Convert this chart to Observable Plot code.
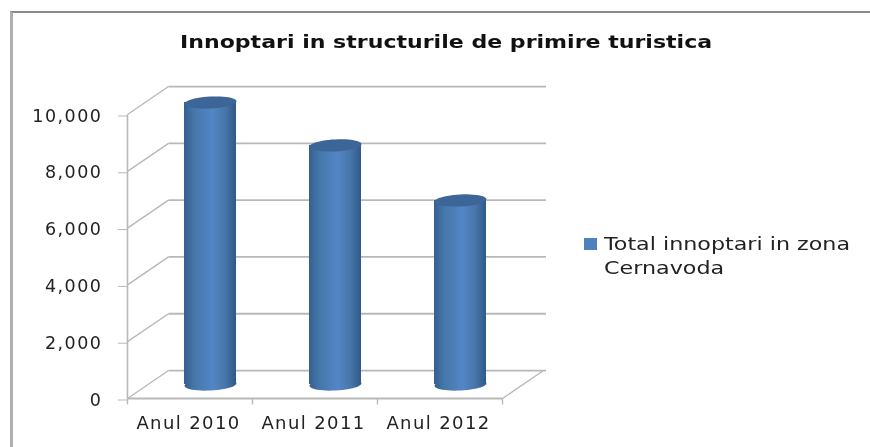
<!DOCTYPE html>
<html>
<head>
<meta charset="utf-8">
<script src="https://cdn.jsdelivr.net/npm/d3@7"></script>
<script src="https://cdn.jsdelivr.net/npm/@observablehq/plot@0.6"></script>
<style>
html, body { margin: 0; padding: 0; background: #fff; overflow: hidden; }
#wrap { position: relative; width: 870px; height: 447px; font-family: "DejaVu Sans", sans-serif; color: #222; filter: blur(0.45px); }
#frame { position: absolute; left: 10px; top: 11px; width: 860px; height: 436px; box-sizing: border-box;
  border-left: 3px solid #b0b0b0; border-top: 2px solid #8a8a8a; }
#title { position: absolute; left: 180px; top: 31px; font-size: 18px; font-weight: bold; white-space: nowrap; color: #111; transform: scaleX(1.226); transform-origin: left top; }
#legend { position: absolute; left: 584px; top: 232px; font-size: 17.5px; line-height: 24px; }
#legend i { position: absolute; left: 0; top: 6px; width: 13px; height: 12px; background: #4f81bd; }
#legend span { display: block; margin-left: 20px; white-space: nowrap; transform: scaleX(1.27); transform-origin: left top; }
svg { position: absolute; left: 0; top: 0; }
g[aria-label="y-axis tick label"] { letter-spacing: 1.5px; }
g[aria-label="text"] { letter-spacing: 1.4px; }
</style>
</head>
<body>
<div id="wrap">
  <div id="frame"></div>
  <div id="chart"></div>
  <div id="title"></div>
  <div id="legend"><i></i><span id="l1"></span><span id="l2"></span></div>
</div>
<script>
const titleText = "Innoptari in structurile de primire turistica";
const legendLines = ["Total innoptari in zona", "Cernavoda"];
const categories = ["Anul 2010", "Anul 2011", "Anul 2012"];
const values = [9930, 8420, 6480];
const yTicks = [0, 2000, 4000, 6000, 8000, 10000];
const xBoundaries = [0, 1, 2, 3];

// depth of the 3D box, expressed in scale units
const depthX = 0.328;
const depthY = 985;
const barWidth = 0.416;
const tickDrop = 210;
const rx = 26, ry = 6, tilt = -0.05;

const ellipse = {
  draw(ctx) {
    for (let i = 0; i < 48; i++) {
      const a = i / 48 * 2 * Math.PI;
      const ex = rx * Math.cos(a), ey = ry * Math.sin(a);
      const px = ex * Math.cos(tilt) - ey * Math.sin(tilt);
      const py = ex * Math.sin(tilt) + ey * Math.cos(tilt);
      i ? ctx.lineTo(px, py) : ctx.moveTo(px, py);
    }
    ctx.closePath();
  }
};

const bars = categories.map((c, i) => ({ c, i, v: values[i], cx: i + 0.5 + depthX / 2 }));
const grid = "#b8b8b8";

const plot = Plot.plot({
  width: 870,
  height: 447,
  marginLeft: 127,
  marginRight: 368,
  marginTop: 114,
  marginBottom: 49,
  style: { background: "transparent", fontFamily: "DejaVu Sans, sans-serif" },
  x: { type: "linear", domain: [0, 3], axis: null },
  y: { type: "linear", domain: [0, 10000], axis: null },
  marks: [
    // back wall gridlines
    Plot.link(yTicks, {
      x1: () => depthX, x2: () => 3 + depthX + 0.02,
      y1: d => d + depthY, y2: d => d + depthY,
      stroke: grid, strokeWidth: 1.8
    }),
    // side wall gridlines
    Plot.link(yTicks, {
      x1: () => 0, x2: () => depthX,
      y1: d => d, y2: d => d + depthY,
      stroke: grid, strokeWidth: 1.4
    }),
    // floor
    Plot.link([0], { x1: () => 3, x2: () => 3 + depthX, y1: () => 0, y2: () => depthY, stroke: grid, strokeWidth: 1.4 }),
    Plot.link([0], { x1: () => 0, x2: () => 3, y1: () => 0, y2: () => 0, stroke: grid, strokeWidth: 1.8 }),
    Plot.link([0], { x1: () => 0, x2: () => 0, y1: () => 0, y2: () => 10000, stroke: grid, strokeWidth: 1.6 }),
    // cylinders
    Plot.dot(bars, { x: "cx", y: () => depthY / 2, symbol: ellipse, r: 10, fill: "url(#cyl)", stroke: "none" }),
    Plot.rect(bars, {
      x1: d => d.cx - barWidth / 2, x2: d => d.cx + barWidth / 2,
      y1: () => depthY / 2, y2: d => d.v + depthY / 2,
      fill: "url(#cyl)"
    }),
    Plot.dot(bars, { x: "cx", y: d => d.v + depthY / 2, symbol: ellipse, r: 10, fill: "#3b6697", stroke: "none" }),
    // axes
    Plot.axisY({
      anchor: "left", ticks: yTicks, tickFormat: d3.format(",d"), tickSize: 9, tickPadding: 16,
      stroke: grid, fontSize: 17.5, fill: "#222", label: null, dy: 1.5
    }),
    Plot.link(xBoundaries, { x1: d => d, x2: d => d, y1: () => 0, y2: () => -tickDrop, stroke: grid, strokeWidth: 1.4 }),
    Plot.text(categories, {
      x: (d, i) => i + 0.5, y: () => 0, dy: 25, dx: -1.5, text: d => d,
      fontSize: 18, fill: "#222"
    })
  ]
});

plot.insertAdjacentHTML("afterbegin", `<defs><linearGradient id="cyl" x1="0" x2="1" y1="0" y2="0">
  <stop offset="0" stop-color="#34608f"/>
  <stop offset="0.2" stop-color="#4677ab"/>
  <stop offset="0.55" stop-color="#5386c6"/>
  <stop offset="0.8" stop-color="#4675a8"/>
  <stop offset="1" stop-color="#30598a"/>
</linearGradient></defs>`);

document.getElementById("chart").appendChild(plot);
document.getElementById("title").textContent = titleText;
document.getElementById("l1").textContent = legendLines[0];
document.getElementById("l2").textContent = legendLines[1];
</script>
</body>
</html>
